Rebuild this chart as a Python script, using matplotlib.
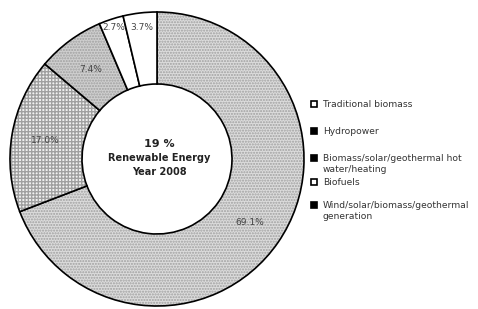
import numpy as np
import matplotlib.pyplot as plt
from matplotlib.patches import Wedge

# data
categories = ['Traditional biomass', 'Hydropower',
              'Biomass/solar/geothermal hot\nwater/heating', 'Biofuels',
              'Wind/solar/biomass/geothermal\ngeneration']
shares = [69.1, 17.0, 7.4, 2.7, 3.7]
labels = ['69.1%', '17.0%', '7.4%', '2.7%', '3.7%']
center_lines = ['19 %', 'Renewable Energy', 'Year 2008']

# styles
faces = ['#dcdcdc', '#f2f2f2', '#cfcfcf', 'white', 'white']
hatches = ['......', '+++++', '......', None, None]
label_r = [112, 113, 111, 138, 132]
legend_y = [105, 132, 159, 183, 206]
legend_fill = ['white', 'black', 'black', 'white', 'black']

fig = plt.figure(figsize=(4.78, 3.09), dpi=100)
ax = fig.add_axes([0, 0, 1, 1])
ax.set_xlim(0, 478)
ax.set_ylim(309, 0)
ax.set_aspect('equal')
ax.axis('off')

cx, cy, R, r_in = 157, 159, 147, 75
total = sum(shares)
start = 90.0
for val, fc, h, lab, lr in zip(shares, faces, hatches, labels, label_r):
    sweep = 360.0 * val / total
    # y axis is inverted, so angles go clockwise on screen when increasing
    t1 = -start
    t2 = -start + sweep
    w = Wedge((cx, cy), R, t1, t2, width=R - r_in, facecolor=fc,
              edgecolor='#a0a0a0', hatch=h, linewidth=0)
    ax.add_patch(w)
    ax.add_patch(Wedge((cx, cy), R, t1, t2, width=R - r_in, facecolor='none',
                       edgecolor='black', linewidth=1.2))
    mid = np.deg2rad((t1 + t2) / 2)
    ax.text(cx + lr * np.cos(mid), cy + lr * np.sin(mid), lab,
            ha='center', va='center', fontsize=6.5, color='#444444')
    start -= sweep

ax.text(cx + 2, 144, center_lines[0], ha='center', va='center',
        fontsize=8, fontweight='bold', color='#222222')
ax.text(cx + 2, 158, center_lines[1], ha='center', va='center',
        fontsize=7, fontweight='bold', color='#222222')
ax.text(cx + 2, 172, center_lines[2], ha='center', va='center',
        fontsize=7, fontweight='bold', color='#222222')

for cat, y, f in zip(categories, legend_y, legend_fill):
    ax.plot(314, y - 1, marker='s', markersize=4, markerfacecolor=f,
            markeredgecolor='black', markeredgewidth=1.2)
    ax.text(323, y - 5, cat, ha='left', va='top', fontsize=6.6,
            color='#333333', linespacing=1.3)

fig.savefig('out.png', dpi=100)
